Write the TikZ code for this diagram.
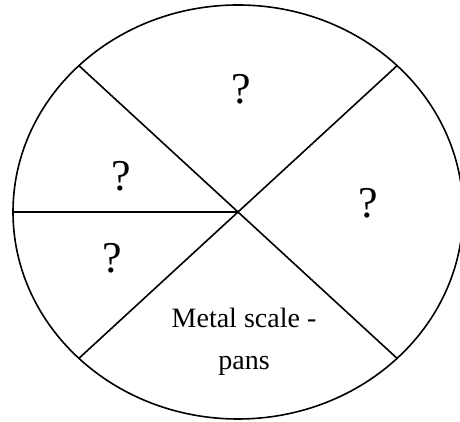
\documentclass[tikz,border=0pt]{standalone}
\usepackage{fontspec}
\setmainfont{Liberation Serif}

\begin{document}
\begin{tikzpicture}[
			x=1pt,
			y=1pt,
			rim/.style={line width=1.6pt},
			spoke/.style={line width=1.6pt},
			qmark/.style={font=\fontsize{44}{44}\selectfont, inner sep=0pt},
			partlabel/.style={font=\fontsize{28}{42}\selectfont, align=center, inner sep=0pt}
		]
		\useasboundingbox (0,0) rectangle (460,422);
		\coordinate (c) at (238,210);
		\draw[rim] (c) ellipse [x radius=225, y radius=207];

		\path (c) ++(45:225 and 207) coordinate (ne);
		\path (c) ++(135:225 and 207) coordinate (nw);
		\path (c) ++(180:225 and 207) coordinate (w);
		\path (c) ++(225:225 and 207) coordinate (sw);
		\path (c) ++(315:225 and 207) coordinate (se);

		\draw[spoke] (nw) -- (c) -- (se);
		\draw[spoke] (sw) -- (c) -- (ne);
		\draw[spoke, line width=2.2pt] (w) -- (c);

		\node[qmark] (qtop) at (241.5,333) {?};
		\node[qmark] (qupper) at (121,246) {?};
		\node[qmark] (qlower) at (112,164) {?};
		\node[qmark] (qright) at (368,219) {?};
		\node[partlabel, anchor=base] (pans) at (244,52) {Metal scale -\\pans};
	\end{tikzpicture}
\end{document}
